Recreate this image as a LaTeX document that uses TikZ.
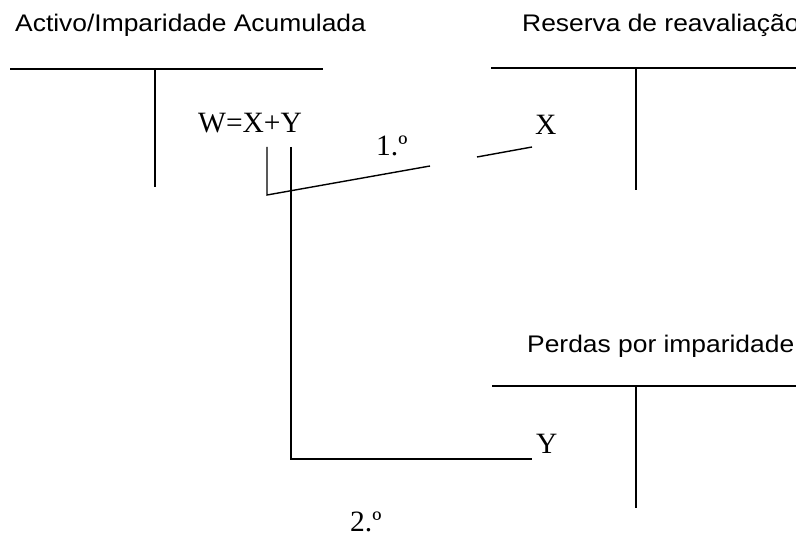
\documentclass[tikz,border=0pt]{standalone}
\usepackage{fontspec}
\setmainfont{Liberation Serif}
\newfontfamily\arialf{Liberation Sans}
\newcommand{\wide}[1]{\scalebox{1.1}[1]{#1}}
\begin{document}
\begin{tikzpicture}[x=1pt,y=-1pt,
  title/.style={font=\arialf\fontsize{24}{28}\selectfont,anchor=base west,inner sep=0pt},
  serif/.style={font=\fontsize{29.5}{33}\selectfont,anchor=base west,inner sep=0pt},
  ln/.style={line width=1.4pt}]
\useasboundingbox (0,0) rectangle (796,534);
\clip (0,0) rectangle (796,534);
% titles
\node[title] (t1) at (15,32) {\wide{Activo/Imparidade Acumulada}};
\node[title] (t2) at (522,32) {\wide{Reserva de reavaliação}};
\node[title] (t3) at (527,353) {\wide{Perdas por imparidade}};
% T accounts
\draw[ln] (10,69) -- (323,69);
\draw[ln] (155,69) -- (155,187);
\draw[ln] (491,68) -- (796,68);
\draw[ln] (636,68) -- (636,190);
\draw[ln] (492,386) -- (796,386);
\draw[ln] (636,386) -- (636,508);
% entries
\node[serif] (w) at (198,133) {W=X+Y};
\node[serif] (x) at (535,135) {X};
\node[serif] (y) at (536,454) {Y};
\node[serif] (s1) at (376,156) {1.º};
\node[serif] (s2) at (350,532) {2.º};
% connectors
\coordinate (cx) at (267,147);
\coordinate (cy) at (291,147);
\coordinate (b1) at (267,195);
\coordinate (g1) at (430,166);
\coordinate (g2) at (477,157);
\coordinate (ex) at (532,147);
\coordinate (b2) at (291,459);
\coordinate (ey) at (532,459);
\draw[ln] (cx) -- (b1) -- (g1);
\draw[ln] (g2) -- (ex);
\draw[ln] (cy) -- (b2) -- (ey);
\end{tikzpicture}
\end{document}
